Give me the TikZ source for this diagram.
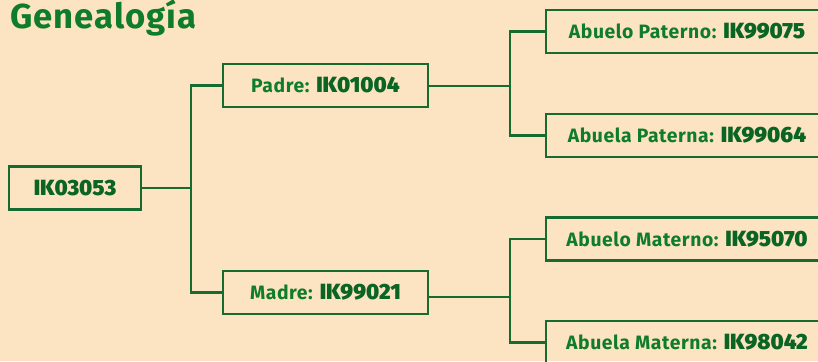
\documentclass[tikz,border=0pt]{standalone}
\usepackage{fontspec}
\setmainfont{Fira Sans}[LetterSpace=3]
\newfontfamily\heavyfont{Fira Sans}[UprightFont={* Bold}, UprightFeatures={FakeBold=2.2, LetterSpace=4}]
\usepackage{tikz}
\usetikzlibrary{positioning}

\definecolor{paper}{RGB}{252,227,194}
\definecolor{treeline}{RGB}{22,108,48}
\definecolor{labgreen}{RGB}{14,124,42}
\definecolor{codegreen}{RGB}{10,100,36}

\tikzset{
  person/.style={draw=treeline, line width=1.6pt, minimum height=32.25pt, inner sep=0pt,
    font=\fontsize{14.5}{16}\selectfont\bfseries, text=labgreen},
  branch/.style={draw=treeline, line width=1.6pt},
}
\newcommand{\code}[1]{{\heavyfont\fontsize{16.5}{18}\selectfont\color{codegreen}#1}}

\begin{document}
\begin{tikzpicture}[x=0.75pt,y=0.75pt,yscale=-1,xscale=1]
% background, diagram is 818 x 361
\clip (0,0) rectangle (818,361);
\fill [paper] (0,0) rectangle (818,361);

% Text Node
\node (title) at (10,28) [anchor=base west, inner sep=0pt, text=labgreen, font=\fontsize{26}{28}\selectfont\bfseries] {Genealogía};

% Text Node
\node (root) at (75,188) [person, minimum width=99pt] {\code{IK03053}};
% Text Node
\node (padre) at (325.5,85.5) [person, minimum width=153.75pt] {Padre: \code{IK01004}};
% Text Node
\node (madre) at (325.5,292.5) [person, minimum width=153.75pt] {Madre: \code{IK99021}};
% Text Node
\node (abpat) at (687,31.5) [person, minimum width=211.5pt] {Abuelo Paterno: \code{IK99075}};
% Text Node
\node (abapat) at (687,135.5) [person, minimum width=211.5pt] {Abuela Paterna: \code{IK99064}};
% Text Node
\node (abmat) at (687,239) [person, minimum width=211.5pt] {Abuelo Materno: \code{IK95070}};
% Text Node
\node (abamat) at (687,342.5) [person, minimum width=211.5pt] {Abuela Materna: \code{IK98042}};

% Straight Lines
\coordinate (jroot) at (191,188);
\coordinate (jpadre) at (510,86);
\coordinate (jmadre) at (510,297);
\draw [branch] (root.east) -- (jroot);
\draw [branch] (padre.west) -| (jroot) |- (madre.west);
\draw [branch] (padre.east |- jpadre) -- (jpadre);
\draw [branch] (abpat.west) -| (jpadre) |- (abapat.west);
\draw [branch] (madre.east |- jmadre) -- (jmadre);
\draw [branch] (abmat.west) -| (jmadre) |- (abamat.west);

\end{tikzpicture}
\end{document}
